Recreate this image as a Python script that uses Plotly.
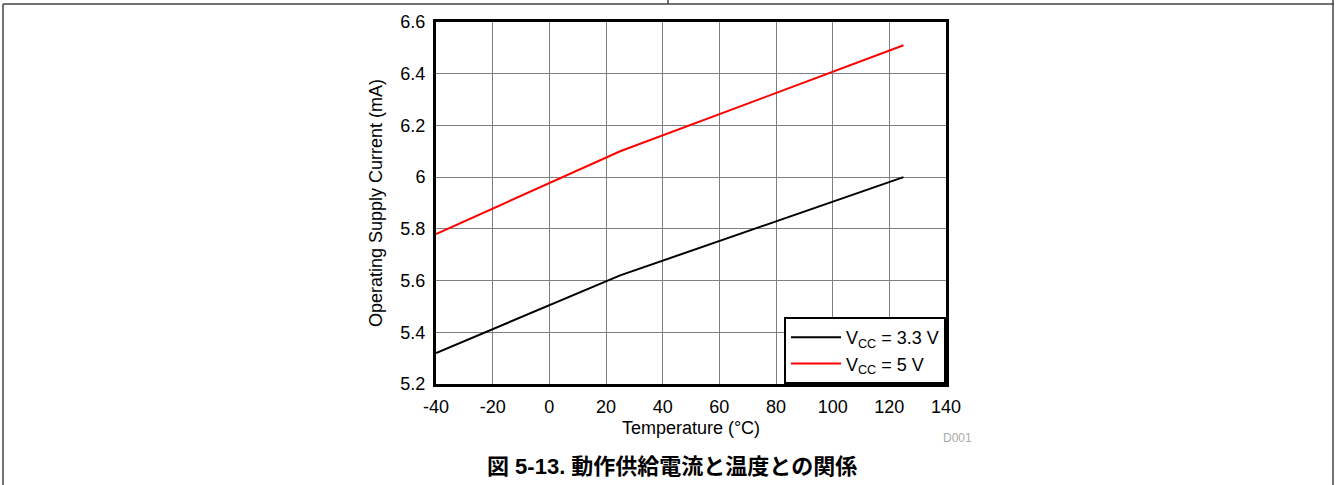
import plotly.graph_objects as go

temps = [-40, 25, 125]
vcc33 = [5.32, 5.62, 6.0]
vcc5 = [5.78, 6.10, 6.51]
names = ["V<sub>CC</sub> = 3.3 V", "V<sub>CC</sub> = 5 V"]
xticks = [-40, -20, 0, 20, 40, 60, 80, 100, 120, 140]
xticklabels = ["-40", "-20", "0", "20", "40", "60", "80", "100", "120", "140"]
yticks = [5.2, 5.4, 5.6, 5.8, 6.0, 6.2, 6.4, 6.6]
yticklabels = ["5.2", "5.4", "5.6", "5.8", "6", "6.2", "6.4", "6.6"]

W, H = 1337, 485
L, R, T, B = 436, 946, 22, 384

def px(x):
    return (x - L) / (R - L)

def py(y):
    return (B - y) / (B - T)

fig = go.Figure()
fig.add_trace(go.Scatter(x=temps, y=vcc33, mode="lines", name=names[0],
                         line=dict(color="black", width=2)))
fig.add_trace(go.Scatter(x=temps, y=vcc5, mode="lines", name=names[1],
                         line=dict(color="#ff0000", width=2)))

font = "Liberation Sans, Arial, sans-serif"
fs = 18
fig.update_layout(
    width=W, height=H,
    margin=dict(l=L, r=W - R, t=T, b=H - B, pad=0),
    paper_bgcolor="white", plot_bgcolor="white",
    font=dict(family=font, size=fs, color="black"),
    showlegend=True,
    legend=dict(x=1, y=0, xanchor="right", yanchor="bottom",
                bgcolor="white", bordercolor="black", borderwidth=2,
                font=dict(size=fs), tracegroupgap=0, itemwidth=50),
    xaxis=dict(range=[-40, 140], tickvals=xticks, ticktext=xticklabels, showgrid=True,
               gridcolor="#7f7f7f", gridwidth=1, showline=True, linecolor="black",
               linewidth=3, mirror=True, ticks="", zeroline=False, ticklabelstandoff=4,
               title=dict(text="Temperature (°C)", font=dict(size=fs), standoff=6)),
    yaxis=dict(range=[5.2, 6.6], tickvals=yticks, ticktext=yticklabels, showgrid=True,
               gridcolor="#7f7f7f", gridwidth=1, showline=True, linecolor="black",
               linewidth=3, mirror=True, ticks="", zeroline=False, ticklabelstandoff=4,
               title=dict(text="Operating Supply Current (mA)", font=dict(size=fs), standoff=14)),
)

frame = dict(color="#444", width=1.5)
fig.add_shape(type="line", xref="paper", yref="paper", x0=px(3), x1=px(1334), y0=py(4), y1=py(4), line=frame)
fig.add_shape(type="line", xref="paper", yref="paper", x0=px(3), x1=px(3), y0=py(4), y1=py(485), line=frame)
fig.add_shape(type="line", xref="paper", yref="paper", x0=px(1333), x1=px(1333), y0=py(0), y1=py(485), line=frame)
fig.add_shape(type="line", xref="paper", yref="paper", x0=px(668), x1=px(668), y0=py(0), y1=py(4), line=frame)

fig.add_annotation(text="D001", xref="paper", yref="paper", x=px(974), y=py(438),
                   xanchor="right", yanchor="middle", showarrow=False,
                   font=dict(size=12, color="#aaaaaa", family=font))
fig.add_annotation(text="<b>図 5-13. 動作供給電流と温度との関係</b>", xref="paper", yref="paper",
                   x=px(672), y=py(467), xanchor="center", yanchor="middle", showarrow=False,
                   font=dict(size=22, color="black",
                             family="Liberation Sans, Noto Sans CJK JP, sans-serif"))

fig.write_html("out.html", config={"displayModeBar": False},
               post_script="document.body.style.margin='0';document.body.style.padding='0';")
